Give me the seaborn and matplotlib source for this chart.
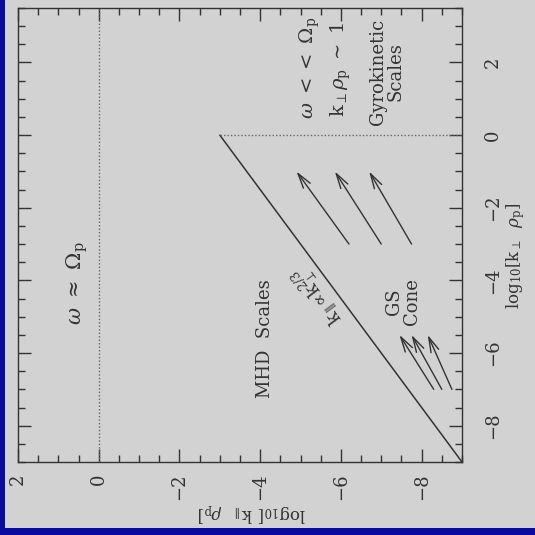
import matplotlib
matplotlib.use("Agg")
import matplotlib.pyplot as plt
from matplotlib.patches import Rectangle
from matplotlib.ticker import MultipleLocator
import numpy as np
import pandas as pd
import seaborn as sns

# Critical-balance line k_par ~ k_perp^(2/3) (log10 units)
cb_kperp = [-9.0, 0.0]
cb_kpar = [-9.0, -3.0]

# Cascade arrows in the GS cone: (tail, head) in log10 k_perp / k_par
long_tail_kperp = [-3.0, -3.0, -3.0]
long_head_kperp = [-1.0, -1.0, -1.0]
long_tail_kpar = [-6.2, -7.0, -7.75]
long_head_kpar = [-4.9, -5.85, -6.7]

short_tail_kperp = [-7.0, -7.0, -7.0]
short_head_kperp = [-5.5, -5.5, -5.5]
short_tail_kpar = [-8.3, -8.5, -8.75]
short_head_kpar = [-7.45, -7.75, -8.15]

kpar_ticks = [2, 0, -2, -4, -6, -8]
kperp_ticks = [-8, -6, -4, -2, 0, 2]

sns.set_theme(style="ticks")
plt.rcParams["font.family"] = ["DejaVu Serif", "DejaVu Sans"]
plt.rcParams["mathtext.fontset"] = "dejavuserif"

bg = "#d2d2d2"
ink = "#333333"

fig = plt.figure(figsize=(5.35, 5.35), dpi=100, facecolor=bg)
ax = fig.add_axes([18 / 535, 1 - 462 / 535, 444 / 535, 454 / 535])
ax.set_facecolor(bg)

# Landscape frame turned on its side: horizontal = k_par (decreasing), vertical = k_perp
cb = pd.DataFrame({"kpar": cb_kpar, "kperp": cb_kperp})
sns.lineplot(data=cb, x="kpar", y="kperp", sort=False, color=ink, lw=1.1, ax=ax)

ax.plot([0, 0], [-9, 3.5], color="#666666", ls=(0, (1, 1.5)), lw=1)
ax.plot([cb_kpar[1], -9], [0, 0], color="#666666", ls=(0, (1, 1.5)), lw=1)

for tx, ty, hx, hy in zip(long_tail_kpar + short_tail_kpar,
                          long_tail_kperp + short_tail_kperp,
                          long_head_kpar + short_head_kpar,
                          long_head_kperp + short_head_kperp):
    ax.annotate("", xy=(hx, hy), xytext=(tx, ty),
                arrowprops=dict(arrowstyle="->,head_length=0.9,head_width=0.25",
                                color=ink, lw=1.0, shrinkA=0, shrinkB=0))

ax.set_xlim(2, -9)
ax.set_ylim(-9, 3.5)
ax.set_xlabel("")
ax.set_ylabel("")

ax.xaxis.set_minor_locator(MultipleLocator(0.5))
ax.yaxis.set_minor_locator(MultipleLocator(0.5))
ax.set_xticks(kpar_ticks)
ax.set_xticklabels([f"{v}".replace("-", "\u2212") for v in kpar_ticks])
ax.set_yticks(kperp_ticks)
ax.set_yticklabels([f"{v}".replace("-", "\u2212") for v in kperp_ticks])

ax.tick_params(which="both", direction="in", top=True, right=True, left=True, bottom=True,
               labelleft=False, labelright=True, labeltop=False, labelbottom=True,
               color=ink, width=1.0)
ax.tick_params(which="major", length=9.5)
ax.tick_params(which="minor", length=4.8)
ax.tick_params(axis="x", which="major", pad=8.5, labelsize=13, labelrotation=90, labelcolor=ink)
ax.tick_params(axis="y", which="major", pad=16, labelsize=13, labelrotation=90, labelcolor=ink)
for lab in ax.get_yticklabels():
    lab.set_verticalalignment("center")
for s in ax.spines.values():
    s.set_color(ink)
    s.set_linewidth(1.0)

txt = dict(color=ink, rotation=90, ha="center", va="center", fontsize=13)
ax.text(0.54, -4.07, r"$\omega\ \approx\ \Omega_{\mathrm{p}}$", **{**txt, "fontsize": 15})
ax.text(-4.12, -5.59, "MHD  Scales", **txt)
ax.text(-7.54, -4.59, "GS\nCone", linespacing=1.0, **txt)
ax.text(-5.23, 1.85, r"$\omega\ <<\ \Omega_{\mathrm{p}}$", **{**txt, "fontsize": 14})
ax.text(-6.0, 1.82, r"$\mathrm{k}_{\perp}\rho_{\mathrm{p}}\ \sim\ 1$", **{**txt, "fontsize": 14})
ax.text(-7.14, 1.74, "Gyrokinetic\nScales", linespacing=1.0, **txt)
ax.text(-5.43, -4.38, r"$\mathrm{k}_{\parallel}\!\propto\!\mathrm{k}_{\perp}^{2/3}$", color=ink,
        rotation=126.6, rotation_mode="anchor", ha="center", va="center", fontsize=13)

fig.text(516 / 535, 1 - 256 / 535, r"$\mathrm{log_{10}[k_{\perp}}\ \ \rho_{\mathrm{p}}]$",
         rotation=90, ha="center", va="center", fontsize=12, color=ink)
fig.text(252 / 535, 1 - 512 / 535, r"$\mathrm{log_{10}[\ k_{\parallel}}\ \ \rho_{\mathrm{p}}]$",
         rotation=180, ha="center", va="center", fontsize=12, color=ink)

# Blue slide border on the left and bottom edges
fig.patches.append(Rectangle((0, 0), 5 / 535, 1, transform=fig.transFigure,
                             facecolor="#0a0aa0", edgecolor="none", zorder=10))
fig.patches.append(Rectangle((0, 0), 1, 7 / 535, transform=fig.transFigure,
                             facecolor="#0a0aa0", edgecolor="none", zorder=10))

fig.savefig("out.png", dpi=100, facecolor=bg)
